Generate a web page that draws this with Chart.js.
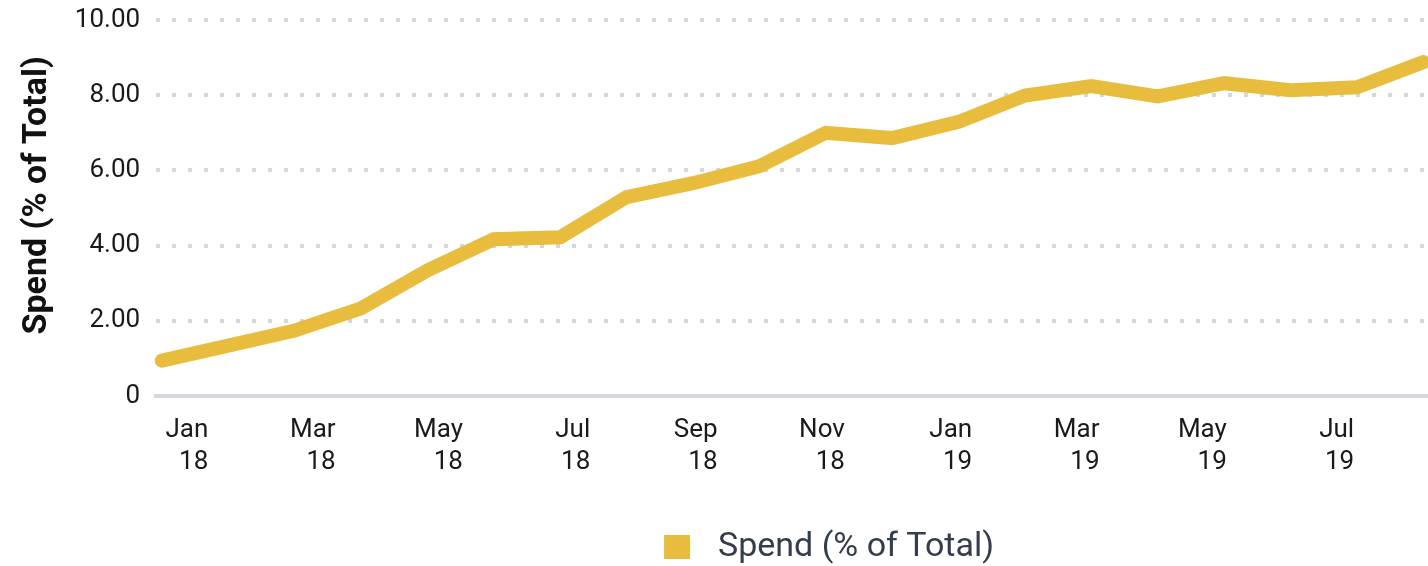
<!DOCTYPE html>
<html>
<head>
<meta charset="utf-8">
<script src="https://cdn.jsdelivr.net/npm/chart.js@4/dist/chart.umd.min.js"></script>
<style>
  body { margin: 0; background: #fff; }
  #wrap { width: 1428px; height: 566px; }
</style>
</head>
<body>
<div id="wrap"><canvas id="myChart"></canvas></div>
<script>
const months = [
  "Jan 18", "Feb 18", "Mar 18", "Apr 18", "May 18", "Jun 18", "Jul 18",
  "Aug 18", "Sep 18", "Oct 18", "Nov 18", "Dec 18", "Jan 19", "Feb 19",
  "Mar 19", "Apr 19", "May 19", "Jun 19", "Jul 19", "Aug 19",
];
const spend = [
  0.94, 1.34, 1.74, 2.33, 3.34, 4.17, 4.22, 5.29, 5.66, 6.11,
  7.0, 6.86, 7.29, 7.99, 8.24, 7.97, 8.32, 8.13, 8.21, 8.88,
];
const yTicks = [0, 2, 4, 6, 8, 10];

const gold = "#e8bc3c";
const gridGray = "#d5d7dd";
const canvasElement = document.getElementById("myChart");

Chart.defaults.font.family = "Roboto";

// legend swatch: square with some blank room on the left and right
const swatch = document.createElement("canvas");
swatch.width = 111;
swatch.height = 24;
const sctx = swatch.getContext("2d");
sctx.fillStyle = gold;
sctx.fillRect(74, 0, 26, 24);

const data = {
  datasets: [
    {
      label: "Spend (% of Total)",
      data: spend.map((v, i) => ({ x: i, y: v })),
      borderColor: gold,
      backgroundColor: gold,
      borderWidth: 14,
      borderCapStyle: "round",
      pointRadius: 0,
      pointHoverRadius: 0,
      tension: 0,
      clip: false,
    },
  ],
};

const config = {
  type: "line",
  data,
  options: {
    responsive: true,
    maintainAspectRatio: false,
    animation: false,
    layout: {
      // negative bottom pushes the legend a bit lower
      padding: { top: 20, left: 13, right: 0, bottom: -8 },
    },
    scales: {
      // data axis, one step per month
      x: {
        type: "linear",
        display: false,
        min: -0.086,
        max: 19.07,
      },
      // label axis, every other month
      xl: {
        type: "linear",
        position: "bottom",
        min: -0.82,
        max: 19.16,
        afterBuildTicks: (scale) => {
          scale.ticks = months
            .map((m, i) => ({ value: i }))
            .filter((t) => t.value % 2 === 0);
        },
        afterFit: (scale) => {
          scale.height += 37;
        },
        grid: { display: false },
        border: { display: true, color: gridGray, width: 4 },
        ticks: {
          align: "end",
          maxRotation: 0,
          autoSkip: false,
          padding: 10,
          color: "#1a1a1a",
          font: { size: 26, lineHeight: 1.25 },
          callback: (v) => months[v].split(" "),
        },
      },
      y: {
        min: 0,
        max: 10,
        afterBuildTicks: (scale) => {
          scale.ticks = yTicks.map((v) => ({ value: v }));
        },
        afterFit: (scale) => {
          scale.paddingTop = 0;
          scale.paddingBottom = 0;
        },
        border: { display: false, dash: [4, 12] },
        grid: {
          drawTicks: false,
          lineWidth: 4,
          color: (ctx) => (ctx.tick && ctx.tick.value === 0 ? "transparent" : gridGray),
        },
        ticks: {
          padding: 16,
          color: "#1a1a1a",
          font: { size: 26 },
          callback: (v) => (v === 0 ? "0" : v.toFixed(2)),
        },
        title: {
          display: true,
          text: "   Spend (% of Total)",
          color: "#111",
          font: { size: 34, weight: "bold" },
          padding: { top: 4, bottom: 1 },
        },
      },
    },
    plugins: {
      legend: {
        position: "bottom",
        fullSize: false,
        labels: {
          usePointStyle: true,
          pointStyle: swatch,
          pointStyleWidth: 111,
          boxHeight: 24,
          color: "#333d4d",
          font: { size: 34, lineHeight: 1.0 },
          padding: 4,
          generateLabels: (chart) =>
            Chart.defaults.plugins.legend.labels
              .generateLabels(chart)
              .map((l) => ({ ...l, lineWidth: 0 })),
        },
      },
      tooltip: { enabled: false },
    },
  },
};

const myChart = new Chart(canvasElement, config);
</script>
</body>
</html>
